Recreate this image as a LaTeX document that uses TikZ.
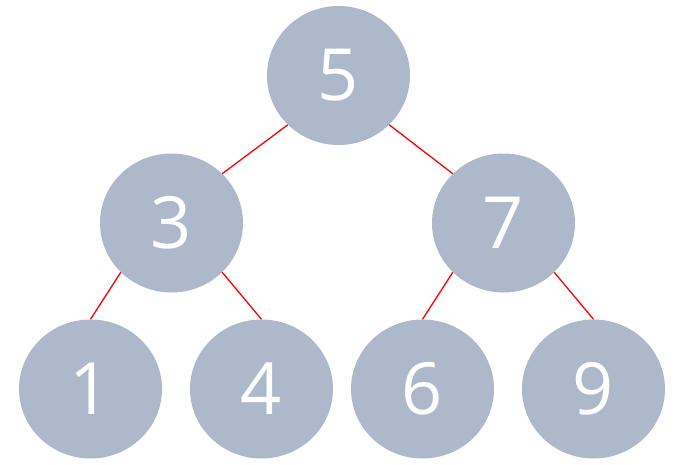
\documentclass[tikz,border=0pt]{standalone}
\usepackage{fontspec}
\setmainfont{Open Sans}
\usepackage{xcolor}
\usepackage{tikz}
\usetikzlibrary{shapes.geometric}

\definecolor{knotfill}{HTML}{ADB9CA}

\begin{document}
\begin{tikzpicture}[
  x=1pt, y=-1pt,
  knot/.style={ellipse, fill=knotfill, draw=none, inner sep=0pt, minimum width=143pt, minimum height=139pt, text=white, font=\fontsize{72}{80}\selectfont},
  edge/.style={draw=red, line width=1.3pt},
]
\useasboundingbox (0,0) rectangle (697,464);

\node[knot] (n5) at (338.5,75.5) {5};
\node[knot] (n3) at (171.5,223) {3};
\node[knot] (n7) at (503.5,223) {7};
\node[knot] (n1) at (90.5,389) {1};
\node[knot] (n4) at (261.5,389) {4};
\node[knot] (n6) at (422.5,389) {6};
\node[knot] (n9) at (593.5,389) {9};

\draw[edge] (n5.south west) -- (n3.north east);
\draw[edge] (n5.south east) -- (n7.north west);
\foreach \p/\c in {n3/n1,n7/n6} \draw[edge] (\p.south west) -- (\c.north);
\foreach \p/\c in {n3/n4,n7/n9} \draw[edge] (\p.south east) -- (\c.north);
\end{tikzpicture}
\end{document}
